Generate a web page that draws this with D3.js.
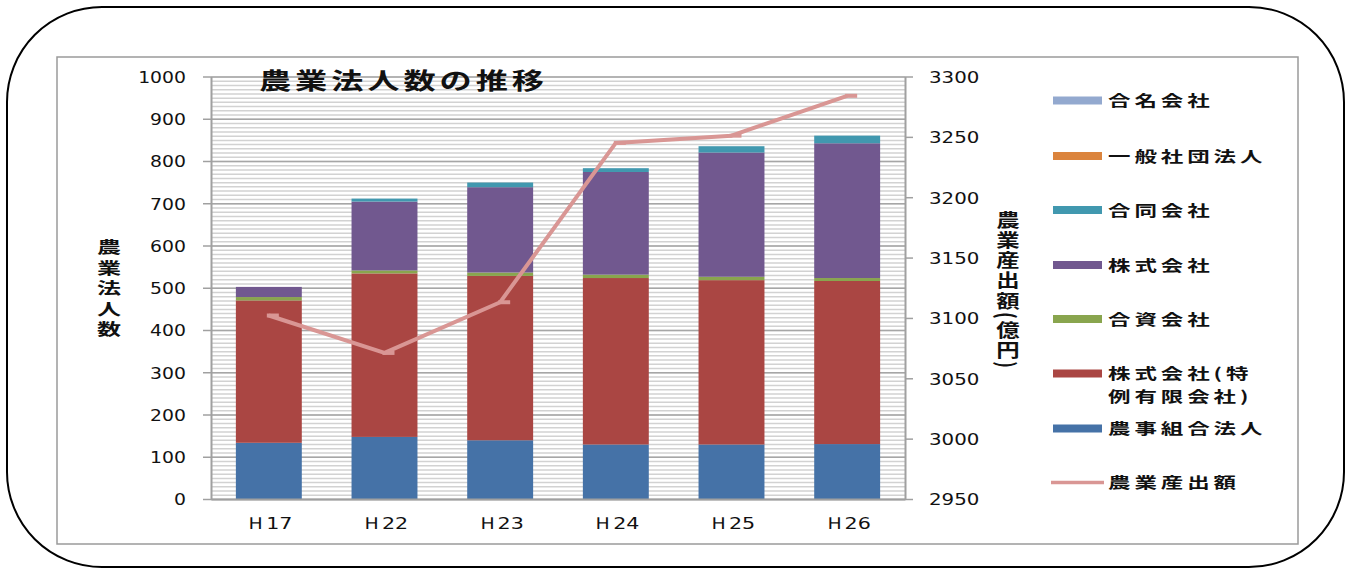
<!DOCTYPE html>
<html>
<head>
<meta charset="utf-8">
<script src="https://cdn.jsdelivr.net/npm/d3@7"></script>
<style>
  body { margin: 0; background: #fff; }
  text { font-family: "DejaVu Sans", sans-serif; fill: #111; }
  .jp { font-family: "Noto Sans CJK JP", sans-serif; font-weight: 700; }
  .vert { writing-mode: vertical-rl; }
</style>
</head>
<body>
<svg id="chart" width="1351" height="572"></svg>
<script>
// data
const years = ["Ｈ17", "Ｈ22", "Ｈ23", "Ｈ24", "Ｈ25", "Ｈ26"];
const noujiKumiai = [133, 147, 139, 129, 129, 130];   // 農事組合法人
const tokureiYugen = [337, 387, 389, 394, 389, 386];  // 株式会社(特例有限会社)
const goshi = [8, 7, 8, 8, 8, 7];                     // 合資会社
const kabushiki = [24, 163, 202, 243, 294, 319];      // 株式会社
const godo = [0, 7, 11, 9, 15, 18];                   // 合同会社
const ippanShadan = [0, 0, 0, 0, 0, 0];               // 一般社団法人
const gomei = [0, 0, 0, 0, 0, 0];                     // 合名会社
const sanshutsu = [3102, 3071, 3113, 3245, 3251, 3284]; // 農業産出額(億円)

const leftTicks = d3.range(0, 1001, 100);
const rightTicks = d3.range(2950, 3301, 50);

const series = [
  { key: "nouji", name: "農事組合法人", values: noujiKumiai, color: "#4572a7" },
  { key: "tokurei", name: "株式会社(特\n例有限会社)", values: tokureiYugen, color: "#aa4643" },
  { key: "goshi", name: "合資会社", values: goshi, color: "#89a54e" },
  { key: "kabu", name: "株式会社", values: kabushiki, color: "#71588f" },
  { key: "godo", name: "合同会社", values: godo, color: "#4198af" },
  { key: "ippan", name: "一般社団法人", values: ippanShadan, color: "#db843d" },
  { key: "gomei", name: "合名会社", values: gomei, color: "#93a9cf" }
];
const lineColor = "#d99694";

const rows = years.map((y, i) => {
  const r = { year: y };
  series.forEach(s => r[s.key] = s.values[i]);
  return r;
});

const svg = d3.select("#chart");

// frames
svg.append("rect").attr("x", 7).attr("y", 7).attr("width", 1337).attr("height", 560)
  .attr("rx", 95).attr("ry", 95).attr("fill", "none").attr("stroke", "#000").attr("stroke-width", 2);
svg.append("rect").attr("x", 57).attr("y", 57).attr("width", 1241).attr("height", 487)
  .attr("fill", "none").attr("stroke", "#9a9a9a").attr("stroke-width", 1.5);

const plot = { left: 211, right: 905, top: 76.5, bottom: 499 };

const x = d3.scaleBand().domain(years).range([plot.left, plot.right]).paddingInner(0.43).paddingOuter(0.215);
const y = d3.scaleLinear().domain([0, 1000]).range([plot.bottom, plot.top]);
const y2 = d3.scaleLinear().domain([2950, 3300]).range([plot.bottom, plot.top]);

// grid lines
const minorGrid = d3.axisRight(y).tickValues(d3.range(0, 1001, 10)).tickFormat(() => null)
  .tickSizeOuter(0).tickSizeInner(plot.right - plot.left);
svg.append("g").attr("transform", `translate(${plot.left},0)`).call(minorGrid)
  .call(g => g.select(".domain").remove())
  .call(g => g.selectAll("line").attr("stroke", "#d2d2d2").attr("stroke-width", 1.5));
const majorGrid = d3.axisRight(y).tickValues(leftTicks).tickFormat(() => null)
  .tickSizeOuter(0).tickSizeInner(plot.right - plot.left);
svg.append("g").attr("transform", `translate(${plot.left},0)`).call(majorGrid)
  .call(g => g.select(".domain").remove())
  .call(g => g.selectAll("line").attr("stroke", "#a6a6a6").attr("stroke-width", 1.5));

// stacked bars
const stack = d3.stack().keys(series.map(s => s.key));
const layers = stack(rows);
svg.append("g").selectAll("g").data(layers).join("g")
  .attr("fill", (d, i) => series[i].color)
  .selectAll("rect").data(d => d).join("rect")
  .attr("x", d => x(d.data.year))
  .attr("width", x.bandwidth())
  .attr("y", d => y(d[1]))
  .attr("height", d => y(d[0]) - y(d[1]));

// left axis
svg.append("g").attr("transform", `translate(${plot.left},0)`)
  .call(d3.axisLeft(y).tickValues(leftTicks).tickFormat(d3.format("d")).tickSize(8).tickSizeOuter(0))
  .call(g => g.select(".domain").attr("stroke", "#a0a0a0").attr("stroke-width", 2))
  .call(g => g.selectAll(".tick line").attr("stroke", "#a0a0a0").attr("stroke-width", 1.5))
  .call(g => g.selectAll(".tick text").attr("x", 0).attr("dy", "0.36em")
    .attr("transform", "translate(-25,0) scale(1.14,1)")
    .style("font-size", "16.5px").attr("fill", "#111"));

// right axis
svg.append("g").attr("transform", `translate(${plot.right},0)`)
  .call(d3.axisRight(y2).tickValues(rightTicks).tickFormat(d3.format("d")).tickSize(8).tickSizeOuter(0))
  .call(g => g.select(".domain").attr("stroke", "#a0a0a0").attr("stroke-width", 2))
  .call(g => g.selectAll(".tick text").attr("x", 0).attr("dy", "0.36em")
    .attr("transform", "translate(24,0) scale(1.2,1)")
    .style("font-size", "16.5px").attr("fill", "#111"))
  .call(g => g.selectAll(".tick line").attr("stroke", "#a0a0a0").attr("stroke-width", 1.5));

// bottom axis
svg.append("g").attr("transform", `translate(0,${plot.bottom})`)
  .call(d3.axisBottom(x).tickSize(0).tickPadding(0))
  .call(g => g.select(".domain").attr("stroke", "#a0a0a0").attr("stroke-width", 2))
  .call(g => g.selectAll(".tick text").attr("y", 0).attr("dy", 0)
    .attr("transform", "translate(0,30) scale(1.25,1)")
    .style("font-size", "16.5px").attr("fill", "#111"));

// output line
const line = d3.line().x((d, i) => x(years[i]) + x.bandwidth() / 2).y(d => y2(d));
svg.append("path").datum(sanshutsu).attr("d", line)
  .attr("fill", "none").attr("stroke", lineColor).attr("stroke-width", 4).attr("stroke-linejoin", "round");
svg.append("g").selectAll("line").data(sanshutsu).join("line")
  .attr("x1", (d, i) => x(years[i]) + x.bandwidth() / 2 - 2)
  .attr("x2", (d, i) => x(years[i]) + x.bandwidth() / 2 + 10)
  .attr("y1", d => y2(d)).attr("y2", d => y2(d))
  .attr("stroke", lineColor).attr("stroke-width", 4);

// stretched japanese text helper
function jp(str, px, py, size, sx, spacing, anchor) {
  return svg.append("text").attr("class", "jp")
    .attr("transform", `translate(${px},${py}) scale(${sx},1)`)
    .attr("text-anchor", anchor || "start")
    .style("font-size", size + "px")
    .style("letter-spacing", (spacing || 0) + "px")
    .text(str);
}

// title
jp("農業法人数の推移", 259, 89, 23, 1.4, 2.8);

// axis titles, written vertically
jp("農業法人数", 109, 239, 16, 1.5, 4.6).classed("vert", true);
jp("農業産出額(億円)", 1008, 211, 18, 1.3, 2.2).classed("vert", true);

// legend
const legendY = { gomei: 100.5, ippan: 156, godo: 210, kabu: 265, goshi: 319, tokurei: 373.5, nouji: 428.5 };
series.forEach(s => {
  const ly = legendY[s.key];
  svg.append("rect").attr("x", 1053).attr("y", ly - 4).attr("width", 49).attr("height", 8).attr("fill", s.color);
  s.name.split("\n").forEach((part, k) => {
    jp(part, 1108, ly + k * 23, 15, 1.5, 2.6, "start").attr("dy", "0.38em");
  });
});
svg.append("line").attr("x1", 1051).attr("x2", 1104).attr("y1", 482.5).attr("y2", 482.5)
  .attr("stroke", lineColor).attr("stroke-width", 3.5);
jp("農業産出額", 1108, 482.5, 15, 1.5, 2.6).attr("dy", "0.38em");
</script>
</body>
</html>
